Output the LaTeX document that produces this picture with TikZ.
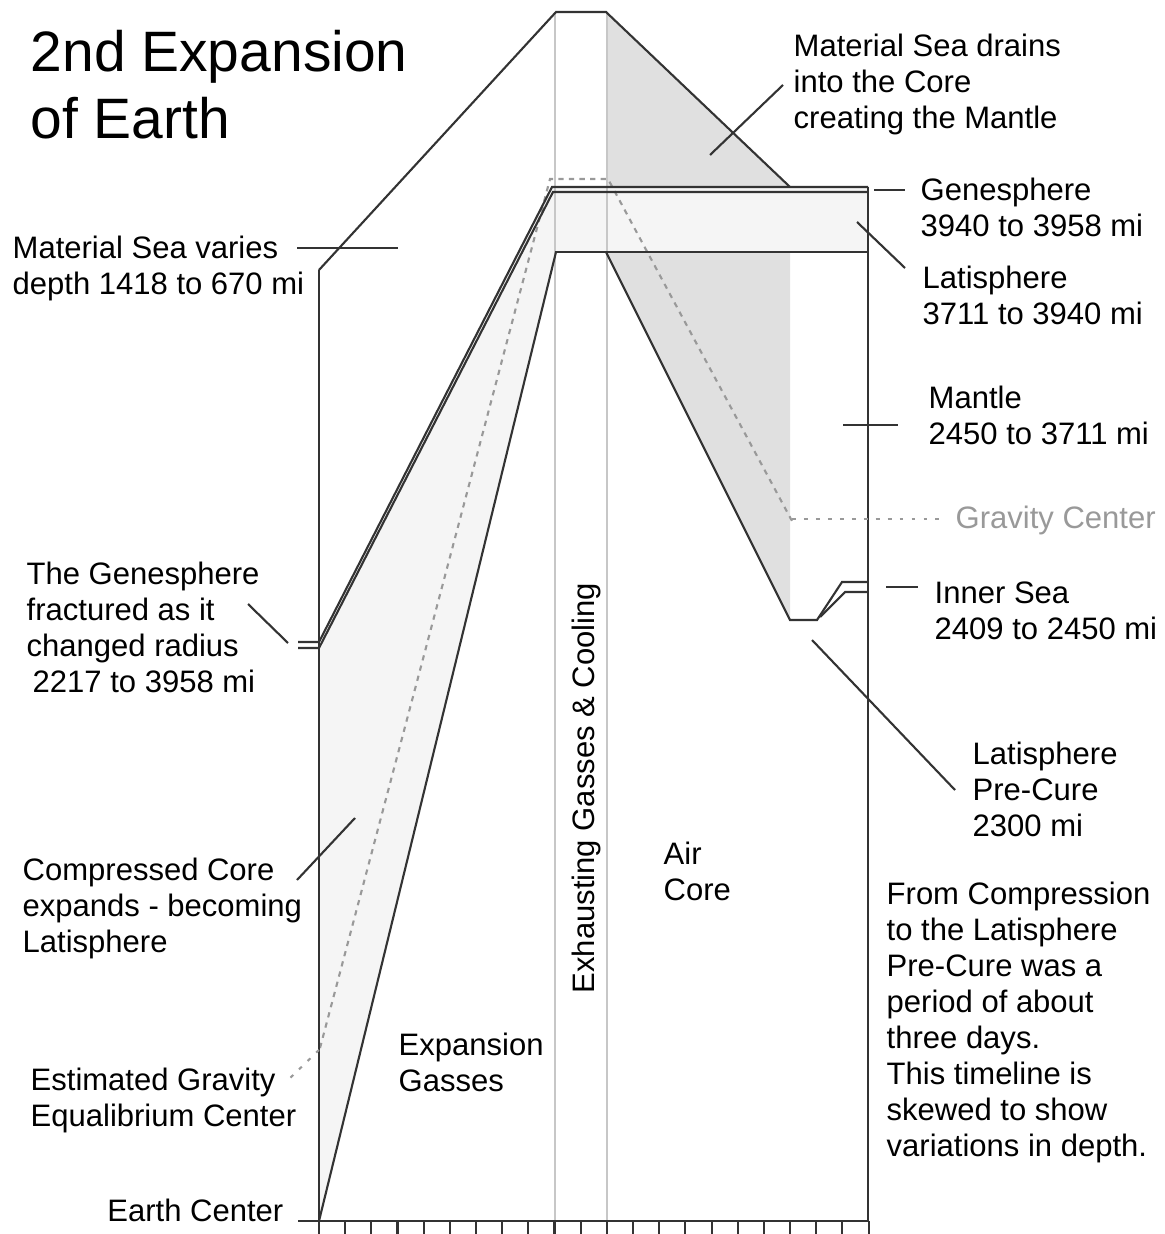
\documentclass[tikz,border=0pt]{standalone}
\usepackage{fontspec}
\setmainfont{Liberation Sans}
\begin{document}
\begin{tikzpicture}[x=0.01cm,y=-0.01cm,
  dk/.style={draw=black!80, line width=0.6pt, line join=miter},
  gl/.style={draw=black!22, line width=0.6pt},
  gd/.style={draw=black!40, line width=0.6pt, dash pattern=on 1.5pt off 1.5pt},
  gdot/.style={draw=black!40, line width=0.6pt, dash pattern=on 1.1pt off 2.3pt},
  lbl/.style={font=\fontsize{8.82}{10.24}\selectfont, align=left, inner sep=0pt, anchor=north west},
  ttl/.style={font=\fontsize{16.2}{18.78}\selectfont, align=left, inner sep=0pt, anchor=north west}]
\useasboundingbox (0,0) rectangle (1164,1234);
% fills
\fill[black!12] (606,12) -- (790,187) -- (790,620) -- (606,252) -- cycle;
\fill[black!4] (319,645) -- (552,187) -- (556,252) -- (319,1221) -- cycle;
\fill[black!4] (552,187) rectangle (868,252);
% gray timeline guides
\draw[gl] (555,12) -- (555,1221);
\draw[gl] (607,12) -- (607,1221);
% gravity center
\draw[gd] (320,1048) -- (550,179) -- (608,179) -- (792,521);
% walls and base
\draw[dk] (319,270) -- (319,1221);
\draw[dk] (868,187) -- (868,1221);
\draw[dk] (298,1221) -- (868,1221);
\foreach \k in {0,...,21} \draw[dk] ({319+\k*26.17},1221) -- ++(0,13);
% material sea outline
\draw[dk] (319,270) -- (556,12) -- (606,12) -- (790,187);
% genesphere double line
\draw[dk] (298,642) -- (319,642) -- (552,187) -- (868,187);
\draw[dk] (298,648) -- (319,648) -- (553,192) -- (868,192);
% latisphere band bottom and core
\draw[dk] (555,252) -- (868,252);
\draw[dk] (556,252) -- (319,1221);
\draw[dk] (606,252) -- (790,620) -- (817,620) -- (842,582) -- (868,582);
\draw[dk] (820,617) -- (845,592) -- (868,592);
% labels
\node[ttl] (title) at (30,30) {2nd Expansion\\of Earth};
\node[lbl] (drain) at (793,33) {Material Sea drains\\into the Core\\creating the Mantle};
\node[lbl] (genes) at (920,177) {Genesphere\\3940 to 3958 mi};
\node[lbl] (latis) at (922,265) {Latisphere\\3711 to 3940 mi};
\node[lbl] (mantle) at (928,385) {Mantle\\2450 to 3711 mi};
\node[lbl, text=black!40] (gravc) at (955,505) {Gravity Center};
\node[lbl] (inner) at (934,581) {Inner Sea\\2409 to 2450 mi};
\node[lbl] (precure) at (972,741) {Latisphere\\Pre-Cure\\2300 mi};
\node[lbl] (note) at (886,881) {From Compression\\to the Latisphere\\Pre-Cure was a\\period of about\\three days.\\This timeline is\\skewed to show\\variations in depth.};
\node[lbl] (air) at (663,841) {Air\\Core};
\node[lbl] (expg) at (398,1032) {Expansion\\Gasses};
\node[font=\fontsize{8.82}{10.24}\selectfont, inner sep=0pt, anchor=base west, rotate=90] (exh) at (594,994) {Exhausting Gasses \& Cooling};
\node[lbl] (seavar) at (12,235) {Material Sea varies\\depth 1418 to 670 mi};
\node[lbl] (genfrac) at (26,561) {The Genesphere\\fractured as it\\changed radius\\\hspace*{0.06cm}2217 to 3958 mi};
\node[lbl] (compc) at (22,857) {Compressed Core\\expands - becoming\\Latisphere};
\node[lbl] (estg) at (30,1067) {Estimated Gravity\\Equalibrium Center};
\node[font=\fontsize{8.82}{10.24}\selectfont, inner sep=0pt, anchor=base east] (earthc) at (284,1221) {Earth Center};
% leader coordinates
\coordinate (l1a) at (297,248); \coordinate (l1b) at (398,248);
\coordinate (l2a) at (783,85);  \coordinate (l2b) at (710,155);
\coordinate (l3a) at (874,190); \coordinate (l3b) at (905,190);
\coordinate (l4a) at (857,222); \coordinate (l4b) at (905,268);
\coordinate (l5a) at (843,425); \coordinate (l5b) at (898,425);
\coordinate (l6a) at (886,587); \coordinate (l6b) at (918,587);
\coordinate (l7a) at (812,640); \coordinate (l7b) at (955,790);
\coordinate (l8a) at (248,604); \coordinate (l8b) at (288,643);
\coordinate (l9a) at (297,880); \coordinate (l9b) at (355,818);
\coordinate (g1a) at (792,519); \coordinate (g1b) at (945,519);
\coordinate (g2a) at (319,1050); \coordinate (g2b) at (285,1083);
\draw[dk] (l1a) -- (l1b);
\draw[dk] (l2a) -- (l2b);
\draw[dk] (l3a) -- (l3b);
\draw[dk] (l4a) -- (l4b);
\draw[dk] (l5a) -- (l5b);
\draw[dk] (l6a) -- (l6b);
\draw[dk] (l7a) -- (l7b);
\draw[dk] (l8a) -- (l8b);
\draw[dk] (l9a) -- (l9b);
\draw[gdot] (g1a) -- (g1b);
\draw[gdot] (g2a) -- (g2b);
\end{tikzpicture}
\end{document}
